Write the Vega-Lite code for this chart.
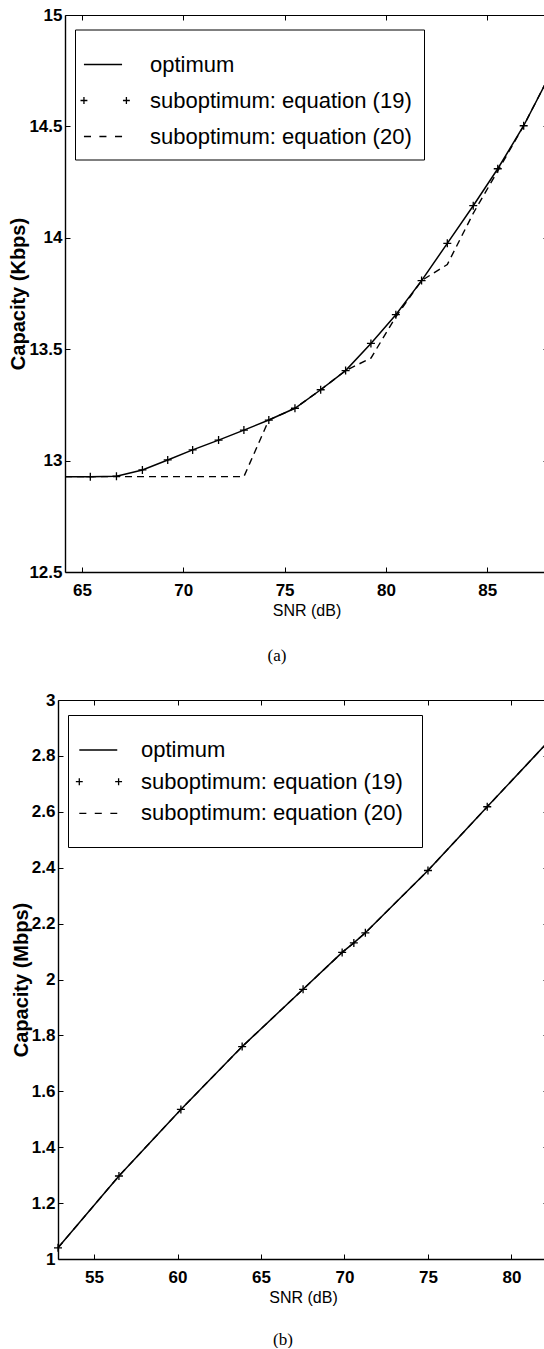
{
  "$schema": "https://vega.github.io/schema/vega-lite/v6.json",
  "padding": {"left": 8, "top": 6, "right": 0, "bottom": 0},
  "autosize": {"type": "pad"},
  "background": "white",
  "spacing": 27,
  "resolve": {"scale": {"shape": "independent"}, "legend": {"shape": "independent"}},
  "datasets": {
    "a_optimum": [
      {"snr": 64.16, "cap": 12.928}, {"snr": 65.41, "cap": 12.928}, {"snr": 66.70, "cap": 12.930},
      {"snr": 67.98, "cap": 12.958}, {"snr": 69.23, "cap": 13.003}, {"snr": 70.46, "cap": 13.048},
      {"snr": 71.74, "cap": 13.092}, {"snr": 72.99, "cap": 13.137}, {"snr": 74.22, "cap": 13.182},
      {"snr": 75.51, "cap": 13.235}, {"snr": 76.78, "cap": 13.318}, {"snr": 78.01, "cap": 13.404},
      {"snr": 79.26, "cap": 13.526}, {"snr": 80.49, "cap": 13.655}, {"snr": 81.76, "cap": 13.808},
      {"snr": 83.03, "cap": 13.975}, {"snr": 84.31, "cap": 14.144}, {"snr": 85.52, "cap": 14.31},
      {"snr": 86.80, "cap": 14.503}, {"snr": 88.0, "cap": 14.715}
    ],
    "a_eq19": [
      {"snr": 65.41, "cap": 12.928}, {"snr": 66.70, "cap": 12.930},
      {"snr": 67.98, "cap": 12.958}, {"snr": 69.23, "cap": 13.003}, {"snr": 70.46, "cap": 13.048},
      {"snr": 71.74, "cap": 13.092}, {"snr": 72.99, "cap": 13.137}, {"snr": 74.22, "cap": 13.182},
      {"snr": 75.51, "cap": 13.235}, {"snr": 76.78, "cap": 13.318}, {"snr": 78.01, "cap": 13.404},
      {"snr": 79.26, "cap": 13.526}, {"snr": 80.49, "cap": 13.655}, {"snr": 81.76, "cap": 13.808},
      {"snr": 83.03, "cap": 13.975}, {"snr": 84.31, "cap": 14.144}, {"snr": 85.52, "cap": 14.31},
      {"snr": 86.80, "cap": 14.503}
    ],
    "a_eq20": [
      {"snr": 64.16, "cap": 12.928}, {"snr": 72.99, "cap": 12.928}, {"snr": 74.22, "cap": 13.182},
      {"snr": 75.51, "cap": 13.235}, {"snr": 76.78, "cap": 13.318}, {"snr": 78.01, "cap": 13.404},
      {"snr": 79.26, "cap": 13.46}, {"snr": 80.49, "cap": 13.645}, {"snr": 81.76, "cap": 13.808},
      {"snr": 83.03, "cap": 13.88}, {"snr": 84.31, "cap": 14.11}, {"snr": 85.52, "cap": 14.30},
      {"snr": 86.80, "cap": 14.503}, {"snr": 88.0, "cap": 14.715}
    ],
    "b_optimum": [
      {"snr": 52.84, "cap": 1.04}, {"snr": 56.49, "cap": 1.297}, {"snr": 60.2, "cap": 1.535},
      {"snr": 63.87, "cap": 1.76}, {"snr": 67.52, "cap": 1.965}, {"snr": 69.86, "cap": 2.097},
      {"snr": 70.56, "cap": 2.131}, {"snr": 71.25, "cap": 2.167}, {"snr": 75.0, "cap": 2.39},
      {"snr": 78.55, "cap": 2.618}, {"snr": 82.19, "cap": 2.85}
    ],
    "b_eq19": [
      {"snr": 52.84, "cap": 1.04}, {"snr": 56.49, "cap": 1.297}, {"snr": 60.2, "cap": 1.535},
      {"snr": 63.87, "cap": 1.76}, {"snr": 67.52, "cap": 1.965}, {"snr": 69.86, "cap": 2.097},
      {"snr": 70.56, "cap": 2.131}, {"snr": 71.25, "cap": 2.167}, {"snr": 75.0, "cap": 2.39},
      {"snr": 78.55, "cap": 2.618}
    ],
    "b_eq20": [
      {"snr": 52.84, "cap": 1.04}, {"snr": 56.49, "cap": 1.297}, {"snr": 60.2, "cap": 1.535},
      {"snr": 63.87, "cap": 1.76}, {"snr": 67.52, "cap": 1.965}, {"snr": 69.86, "cap": 2.097},
      {"snr": 70.56, "cap": 2.131}, {"snr": 71.25, "cap": 2.167}, {"snr": 75.0, "cap": 2.39},
      {"snr": 78.55, "cap": 2.618}, {"snr": 82.19, "cap": 2.85}
    ],
    "legend_entries": [
      {"series": "optimum"},
      {"series": "suboptimum: equation (19)"},
      {"series": "suboptimum: equation (20)"}
    ]
  },
  "vconcat": [
    {
      "width": 490,
      "height": 557,
      "title": {"text": "(a)", "orient": "bottom", "anchor": "middle", "dx": -26, "offset": 30, "font": "Liberation Serif", "fontSize": 17, "fontWeight": "normal", "color": "black"},
      "layer": [
        {
          "data": {"name": "a_optimum"},
          "mark": {"type": "line", "color": "black", "strokeWidth": 1.5},
          "encoding": {
            "x": {"field": "snr", "type": "quantitative", "scale": {"domain": [64.16, 88.0], "range": [7, 490], "zero": false, "nice": false},
              "axis": {"orient": "bottom", "values": [65, 70, 75, 80, 85], "format": "~g", "title": "SNR (dB)", "tickSize": -5, "labelPadding": 15, "titlePadding": 4, "titleFontWeight": "normal", "domainWidth": 1.4}},
            "y": {"field": "cap", "type": "quantitative", "scale": {"domain": [12.5, 15], "zero": false, "nice": false},
              "axis": {"orient": "left", "offset": -7, "values": [12.5, 13, 13.5, 14, 14.5, 15], "format": "~g", "title": "Capacity (Kbps)", "tickSize": -5, "labelPadding": 8, "titlePadding": 0, "titleFontSize": 20, "titleFontWeight": "bold", "domainWidth": 1.4}}
          }
        },
        {
          "data": {"name": "a_eq20"},
          "mark": {"type": "line", "color": "black", "strokeWidth": 1.4, "strokeDash": [7, 5]},
          "encoding": {
            "x": {"field": "snr", "type": "quantitative", "axis": null},
            "y": {"field": "cap", "type": "quantitative", "axis": null}
          }
        },
        {
          "data": {"name": "a_eq19"},
          "mark": {"type": "point", "shape": "M-1,0H1M0,-1V1", "size": 64, "color": "black", "filled": false, "strokeWidth": 1.3, "opacity": 1},
          "encoding": {
            "x": {"field": "snr", "type": "quantitative",
              "axis": {"orient": "top", "values": [65, 70, 75, 80, 85], "labels": false, "tickSize": -5, "domain": true, "domainWidth": 1, "title": null}},
            "y": {"field": "cap", "type": "quantitative",
              "axis": {"orient": "right", "values": [12.5, 13, 13.5, 14, 14.5, 15], "labels": false, "tickSize": -5, "domain": true, "domainWidth": 1, "title": null}}
          }
        },
        {
          "data": {"name": "legend_entries"},
          "mark": {"type": "point", "opacity": 0, "color": "black", "filled": false},
          "encoding": {
            "shape": {"field": "series", "type": "nominal",
              "scale": {"domain": ["optimum", "suboptimum: equation (19)", "suboptimum: equation (20)"],
                "range": ["M-1.27,0H1.27", "M-1.5,0H-1.04M-1.27,-0.23V0.23M1.33,0H1.79M1.56,-0.23V0.23", "M-1.27,0H-0.8M-0.24,0H0.23M0.8,0H1.27"]},
              "legend": {"orient": "none", "legendX": 17, "legendY": 14.5, "title": " ", "titleFontSize": 4, "titlePadding": 3, "labelFont": "Liberation Sans", "labelFontSize": 22, "labelColor": "black", "labelLimit": 600, "symbolSize": 900, "symbolStrokeWidth": 1.3, "symbolStrokeColor": "black", "symbolFillColor": "transparent", "symbolOpacity": 1, "labelOffset": 31, "rowPadding": 9, "padding": 12, "strokeColor": "black", "fillColor": "white"}}
          }
        }
      ]
    },
    {
      "width": 490,
      "height": 559,
      "title": {"text": "(b)", "orient": "bottom", "anchor": "middle", "dx": -20, "offset": 27, "font": "Liberation Serif", "fontSize": 17, "fontWeight": "normal", "color": "black"},
      "layer": [
        {
          "data": {"name": "b_optimum"},
          "mark": {"type": "line", "color": "black", "strokeWidth": 1.5},
          "encoding": {
            "x": {"field": "snr", "type": "quantitative", "scale": {"domain": [52.84, 82.19], "zero": false, "nice": false},
              "axis": {"orient": "bottom", "values": [55, 60, 65, 70, 75, 80], "format": "~g", "title": "SNR (dB)", "tickSize": -5, "labelPadding": 15, "titlePadding": 4, "titleFontWeight": "normal", "domainWidth": 1.4}},
            "y": {"field": "cap", "type": "quantitative", "scale": {"domain": [1, 3], "zero": false, "nice": false},
              "axis": {"orient": "left", "values": [1, 1.2, 1.4, 1.6, 1.8, 2, 2.2, 2.4, 2.6, 2.8, 3], "format": "~g", "title": "Capacity (Mbps)", "tickSize": -5, "labelPadding": 8, "titlePadding": 0, "titleFontSize": 20, "titleFontWeight": "bold", "domainWidth": 1.4}}
          }
        },
        {
          "data": {"name": "b_eq20"},
          "mark": {"type": "line", "color": "black", "strokeWidth": 1.4, "strokeDash": [7, 5]},
          "encoding": {
            "x": {"field": "snr", "type": "quantitative", "axis": null},
            "y": {"field": "cap", "type": "quantitative", "axis": null}
          }
        },
        {
          "data": {"name": "b_eq19"},
          "mark": {"type": "point", "shape": "M-1,0H1M0,-1V1", "size": 64, "color": "black", "filled": false, "strokeWidth": 1.3, "opacity": 1},
          "encoding": {
            "x": {"field": "snr", "type": "quantitative",
              "axis": {"orient": "top", "values": [55, 60, 65, 70, 75, 80], "labels": false, "tickSize": -5, "domain": true, "domainWidth": 1, "title": null}},
            "y": {"field": "cap", "type": "quantitative",
              "axis": {"orient": "right", "values": [1, 1.2, 1.4, 1.6, 1.8, 2, 2.2, 2.4, 2.6, 2.8, 3], "labels": false, "tickSize": -5, "domain": true, "domainWidth": 1, "title": null}}
          }
        },
        {
          "data": {"name": "legend_entries"},
          "mark": {"type": "point", "opacity": 0, "color": "black", "filled": false},
          "encoding": {
            "shape": {"field": "series", "type": "nominal",
              "scale": {"domain": ["optimum", "suboptimum: equation (19)", "suboptimum: equation (20)"],
                "range": ["M-1.58,0H0.95", "M-1.81,0H-1.35M-1.58,-0.23V0.23M0.81,0H1.27M1.04,-0.23V0.23", "M-1.58,0H-1.11M-0.55,0H-0.08M0.49,0H0.95"]},
              "legend": {"orient": "none", "legendX": 10, "legendY": 15, "title": " ", "titleOrient": "bottom", "titleFontSize": 2, "titlePadding": 2, "labelFont": "Liberation Sans", "labelFontSize": 22, "labelColor": "black", "labelLimit": 600, "symbolSize": 900, "symbolStrokeWidth": 1.3, "symbolStrokeColor": "black", "symbolFillColor": "transparent", "symbolOpacity": 1, "labelOffset": 22, "rowPadding": 4.7, "padding": 19, "strokeColor": "black", "fillColor": "white"}}
          }
        }
      ]
    }
  ],
  "config": {
    "font": "Liberation Sans",
    "view": {"stroke": null},
    "axis": {
      "grid": false,
      "domainColor": "black",
      "tickColor": "black",
      "tickWidth": 1,
      "labelFont": "Liberation Sans",
      "labelFontSize": 17,
      "labelFontWeight": "bold",
      "labelColor": "black",
      "labelFlush": false,
      "labelOverlap": false,
      "titleFont": "Liberation Sans",
      "titleFontSize": 16,
      "titleColor": "black"
    }
  }
}
